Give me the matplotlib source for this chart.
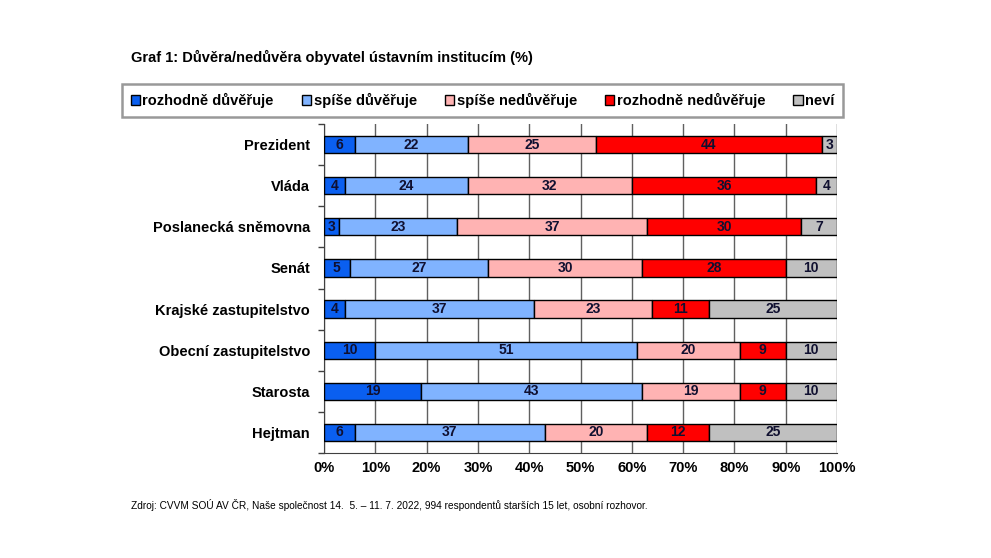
import matplotlib.pyplot as plt
import numpy as np

plt.rcParams['font.family'] = ['Liberation Sans', 'DejaVu Sans']

# ─── data ─────────────────────────────────────────────────────────────────────
institutions = ["Prezident", "Vláda", "Poslanecká sněmovna", "Senát",
                "Krajské zastupitelstvo", "Obecní zastupitelstvo",
                "Starosta", "Hejtman"]
series_names = ["rozhodně důvěřuje", "spíše důvěřuje", "spíše nedůvěřuje",
                "rozhodně nedůvěřuje", "neví"]
rozhodne_duveruje = [6, 4, 3, 5, 4, 10, 19, 6]
spise_duveruje = [22, 24, 23, 27, 37, 51, 43, 37]
spise_neduveruje = [25, 32, 37, 30, 23, 20, 19, 20]
rozhodne_neduveruje = [44, 36, 30, 28, 11, 9, 9, 12]
nevi = [3, 4, 7, 10, 25, 10, 10, 25]
x_ticks = [0, 10, 20, 30, 40, 50, 60, 70, 80, 90, 100]

colors = ["#0a5ff0", "#80b3ff", "#ffb3b3", "#ff0000", "#c0c0c0"]

# ─── figure ───────────────────────────────────────────────────────────────────
fig = plt.figure(figsize=(9.91, 5.58), dpi=100)
W, H = 991, 558
ax = fig.add_axes([324 / W, 1 - 453 / H, (837 - 324) / W, (453 - 124) / H])

y = np.arange(len(institutions))
left = np.zeros(len(institutions))
all_series = [rozhodne_duveruje, spise_duveruje, spise_neduveruje,
              rozhodne_neduveruje, nevi]
for name, vals, c in zip(series_names, all_series, colors):
    vals = np.array(vals)
    bars = ax.barh(y, vals, left=left, height=0.42, color=c,
                   edgecolor="black", linewidth=1.0, label=name, zorder=3)
    for b, v in zip(bars, vals):
        ax.text(b.get_x() + b.get_width() / 2, b.get_y() + b.get_height() / 2,
                str(v), ha="center", va="center", fontsize=10,
                fontweight="bold", color="#101030", zorder=4)
    left += vals

ax.set_xlim(0, 100)
ax.set_ylim(len(institutions) - 0.5, -0.5)
ax.set_xticks(x_ticks)
ax.set_xticklabels([f"{t}%" for t in x_ticks], fontsize=10.5, fontweight="bold")
ax.tick_params(axis="x", length=0, pad=6)

ax.set_yticks(y)
ax.set_yticklabels(institutions, fontsize=10.5, fontweight="bold")
ax.tick_params(axis="y", length=0, pad=10)
# minor ticks between categories
ax.set_yticks(np.arange(-0.5, len(institutions), 1), minor=True)
ax.tick_params(axis="y", which="minor", length=4, width=1, color="#404040")

ax.xaxis.grid(True, color="#606060", linewidth=1, zorder=0)
ax.set_axisbelow(True)
for s in ["top", "right"]:
    ax.spines[s].set_visible(False)
ax.spines["left"].set_color("#404040")
ax.spines["bottom"].set_color("#404040")

# ─── legend ───────────────────────────────────────────────────────────────────
leg = fig.legend(loc="lower left", ncol=5, mode="expand",
                 bbox_to_anchor=(122 / W, 1 - 117 / H, (843 - 122) / W, 34 / H),
                 prop={"size": 10.5, "weight": "bold"},
                 handlelength=0.65, handleheight=0.65, handletextpad=0.15,
                 borderaxespad=0, fancybox=False, frameon=True,
                 borderpad=0.6, columnspacing=1.0)
leg.get_frame().set_edgecolor("#808080")
leg.get_frame().set_linewidth(1.8)
leg._legend_box.align = "center"

# ─── texts ────────────────────────────────────────────────────────────────────
fig.text(131 / W, 1 - 57 / H, "Graf 1: Důvěra/nedůvěra obyvatel ústavním institucím (%)",
         fontsize=10.5, fontweight="bold", va="center")
fig.text(131 / W, 1 - 505 / H,
         "Zdroj: CVVM SOÚ AV ČR, Naše společnost 14.  5. – 11. 7. 2022, "
         "994 respondentů starších 15 let, osobní rozhovor.",
         fontsize=7.3, va="center")

fig.savefig("out.png", dpi=100)
